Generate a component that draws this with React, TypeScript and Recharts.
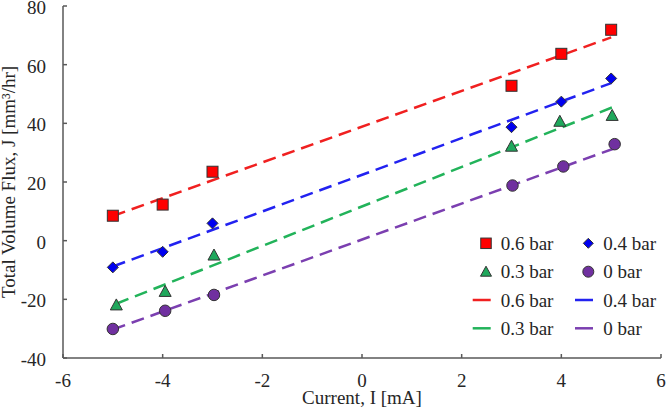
import React from 'react';
import { ScatterChart, Scatter, XAxis, YAxis, Legend } from 'recharts';

// Measured points: current (mA) vs. total volume flux (mm³/hr) at each pressure
const currents = [-5, -4, -3, 3, 4, 5];
const flux06 = [8.5, 12.3, 23.5, 52.8, 63.7, 71.9];
const flux04 = [-9.1, -3.8, 5.9, 38.7, 47.4, 55.3];
const current03 = [-4.93, -3.95, -2.97, 3.0, 3.97, 5.02];
const flux03 = [-21.9, -17.3, -4.9, 32.2, 40.7, 42.7];
const current0 = [-5.0, -3.95, -2.97, 3.02, 4.04, 5.07];
const flux0 = [-30.1, -23.9, -18.5, 18.8, 25.3, 32.9];

// Linear fit end points for each pressure
const fitX06 = [-5, 5];
const fitY06 = [8.4, 69.3];
const fitX04 = [-5, 5];
const fitY04 = [-8.8, 53.7];
const fitX03 = [-4.93, 5.03];
const fitY03 = [-21.5, 45.5];
const fitX0 = [-5, 5.07];
const fitY0 = [-30.3, 31.5];

const xTicks = [-6, -4, -2, 0, 2, 4, 6];
const yTicks = [-40, -20, 0, 20, 40, 60, 80];
const seriesLabels = ['0.6 bar', '0.4 bar', '0.3 bar', '0 bar'];

const zip = (xs: number[], ys: number[]) => xs.map((x, i) => ({ x, y: ys[i] }));

const FONT = '"Liberation Serif", "Times New Roman", serif';
const TEXT = '#262626';
const AXIS = '#595959';

const MARK_RED = '#ff0000';
const MARK_BLUE = '#0000f0';
const MARK_GREEN = '#1fa85c';
const MARK_PURPLE = '#7030a0';
const LINE_RED = '#f02020';
const LINE_BLUE = '#2222f0';
const LINE_GREEN = '#22b35a';
const LINE_PURPLE = '#7b3fb0';
const EDGE = '#333333';

const Square = ({ cx, cy, s = 11, fill }: any) => (
  <rect x={cx - s / 2} y={cy - s / 2} width={s} height={s} fill={fill} stroke={EDGE} strokeWidth={1} />
);
const Diamond = ({ cx, cy, s = 11, fill }: any) => (
  <polygon
    points={`${cx},${cy - s / 2} ${cx + s / 2},${cy} ${cx},${cy + s / 2} ${cx - s / 2},${cy}`}
    fill={fill}
    stroke={EDGE}
    strokeWidth={1}
  />
);
const Triangle = ({ cx, cy, s = 12, fill }: any) => (
  <polygon
    points={`${cx},${cy - s / 2} ${cx + s / 2},${cy + s / 2 - 1} ${cx - s / 2},${cy + s / 2 - 1}`}
    fill={fill}
    stroke={EDGE}
    strokeWidth={1}
  />
);
const Circle = ({ cx, cy, s = 11.5, fill }: any) => (
  <circle cx={cx} cy={cy} r={s / 2} fill={fill} stroke={EDGE} strokeWidth={1} />
);

const noDot = () => <g />;

const XTick = ({ x, y, payload }: any) => (
  <g>
    <line x1={x} y1={y} x2={x} y2={y - 4} stroke={AXIS} strokeWidth={1.5} />
    <text x={x} y={y + 29} textAnchor="middle" fontFamily={FONT} fontSize={19} fill={TEXT}>
      {payload.value}
    </text>
  </g>
);

const YTick = ({ x, y, payload }: any) => (
  <g>
    <line x1={x} y1={y} x2={x + 4} y2={y} stroke={AXIS} strokeWidth={1.5} />
    <text x={x - 17} y={y + 8} textAnchor="end" fontFamily={FONT} fontSize={19} fill={TEXT}>
      {payload.value}
    </text>
  </g>
);

const XTitle = ({ viewBox }: any) => (
  <text
    x={viewBox.x + viewBox.width / 2}
    y={404}
    textAnchor="middle"
    fontFamily={FONT}
    fontSize={19}
    fill={TEXT}
  >
    Current, I [mA]
  </text>
);

const YTitle = ({ viewBox }: any) => {
  const cy = viewBox.y + viewBox.height / 2;
  return (
    <text
      x={15}
      y={cy}
      transform={`rotate(-90, 15, ${cy})`}
      textAnchor="middle"
      fontFamily={FONT}
      fontSize={19}
      fill={TEXT}
    >
      Total Volume Flux, J [mm³/hr]
    </text>
  );
};

const LegendBox = () => {
  const rows = [15.3, 43.7, 72, 100.3];
  const col1 = 26;
  const col2 = 128.3;
  const t1 = 40.7;
  const t2 = 143.3;
  const label = (x: number, y: number, s: string) => (
    <text x={x} y={y + 6.5} fontFamily={FONT} fontSize={19} fill={TEXT}>
      {s}
    </text>
  );
  const seg = (cx: number, y: number, c: string) => (
    <line x1={cx - 9} y1={y} x2={cx + 9} y2={y} stroke={c} strokeWidth={2.5} />
  );
  return (
    <svg width={206} height={120} style={{ display: 'block', overflow: 'visible' }}>
      <Square cx={col1} cy={rows[0]} s={10.5} fill={MARK_RED} />
      {label(t1, rows[0], seriesLabels[0])}
      <Diamond cx={col2} cy={rows[0]} s={10} fill={MARK_BLUE} />
      {label(t2, rows[0], seriesLabels[1])}
      <Triangle cx={col1} cy={rows[1]} s={11} fill={MARK_GREEN} />
      {label(t1, rows[1], seriesLabels[2])}
      <Circle cx={col2} cy={rows[1]} s={11} fill={MARK_PURPLE} />
      {label(t2, rows[1], seriesLabels[3])}
      {seg(col1 - 4.3, rows[2], LINE_RED)}
      {label(t1, rows[2], seriesLabels[0])}
      {seg(col2 - 4.3, rows[2], LINE_BLUE)}
      {label(t2, rows[2], seriesLabels[1])}
      {seg(col1 - 4.3, rows[3], LINE_GREEN)}
      {label(t1, rows[3], seriesLabels[2])}
      {seg(col2 - 4.3, rows[3], LINE_PURPLE)}
      {label(t2, rows[3], seriesLabels[3])}
    </svg>
  );
};

const dash = { strokeWidth: 2.5, strokeDasharray: '13 7' };

export default function App() {
  return (
    <div style={{ position: 'absolute', left: 0, top: 0, width: 666, height: 409, background: '#fff' }}>
      <ScatterChart width={666} height={409} margin={{ top: 6, right: 5, bottom: 0, left: 0 }}>
        <XAxis
          type="number"
          dataKey="x"
          domain={[-6, 6]}
          ticks={xTicks}
          height={51}
          tickSize={0}
          tickMargin={0}
          tickLine={false}
          tick={<XTick />}
          axisLine={{ stroke: AXIS, strokeWidth: 1.5 }}
          interval={0}
          allowDataOverflow
          label={{ content: <XTitle /> }}
        />
        <YAxis
          type="number"
          dataKey="y"
          domain={[-40, 80]}
          ticks={yTicks}
          width={63}
          tickSize={0}
          tickMargin={0}
          tickLine={false}
          tick={<YTick />}
          axisLine={{ stroke: AXIS, strokeWidth: 1.5 }}
          interval={0}
          allowDataOverflow
          label={{ content: <YTitle /> }}
        />
        <Legend
          layout="vertical"
          align="center"
          verticalAlign="middle"
          content={() => <LegendBox />}
          wrapperStyle={{ position: 'absolute', left: 460, top: 228, width: 206, height: 120 }}
        />
        <Scatter name="fit 0.6 bar" data={zip(fitX06, fitY06)} line={{ stroke: LINE_RED, ...dash }} shape={noDot} isAnimationActive={false} legendType="none" />
        <Scatter name="fit 0.4 bar" data={zip(fitX04, fitY04)} line={{ stroke: LINE_BLUE, ...dash }} shape={noDot} isAnimationActive={false} legendType="none" />
        <Scatter name="fit 0.3 bar" data={zip(fitX03, fitY03)} line={{ stroke: LINE_GREEN, ...dash }} shape={noDot} isAnimationActive={false} legendType="none" />
        <Scatter name="fit 0 bar" data={zip(fitX0, fitY0)} line={{ stroke: LINE_PURPLE, ...dash }} shape={noDot} isAnimationActive={false} legendType="none" />
        <Scatter name="0.6 bar" data={zip(currents, flux06)} shape={(p: any) => <Square cx={p.cx} cy={p.cy} fill={MARK_RED} />} isAnimationActive={false} />
        <Scatter name="0.4 bar" data={zip(currents, flux04)} shape={(p: any) => <Diamond cx={p.cx} cy={p.cy} fill={MARK_BLUE} />} isAnimationActive={false} />
        <Scatter name="0.3 bar" data={zip(current03, flux03)} shape={(p: any) => <Triangle cx={p.cx} cy={p.cy} fill={MARK_GREEN} />} isAnimationActive={false} />
        <Scatter name="0 bar" data={zip(current0, flux0)} shape={(p: any) => <Circle cx={p.cx} cy={p.cy} fill={MARK_PURPLE} />} isAnimationActive={false} />
      </ScatterChart>
    </div>
  );
}
